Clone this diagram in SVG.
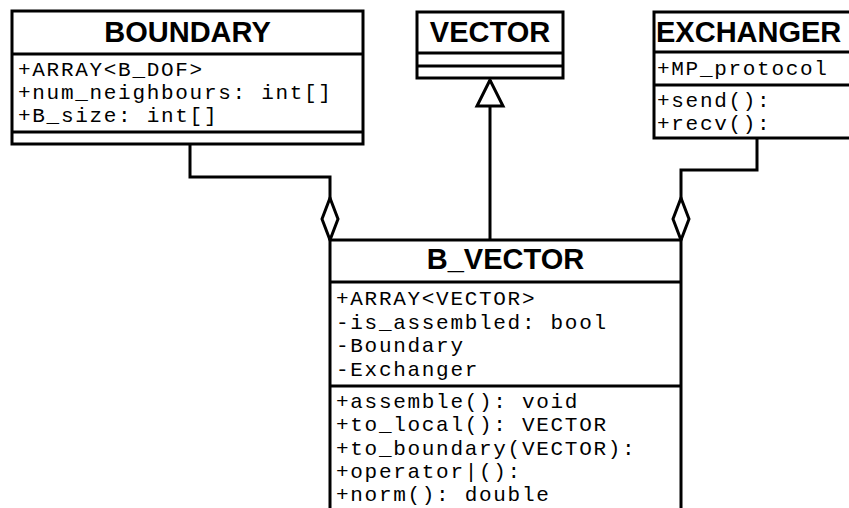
<svg xmlns="http://www.w3.org/2000/svg" width="849" height="508" viewBox="0 0 849 508">
<style>
.box{fill:#fff;stroke:#000;stroke-width:3}
.div{stroke:#000;stroke-width:3;fill:none}
.title{font-family:"Liberation Sans",Arial,sans-serif;font-weight:bold;font-size:29px;fill:#000}
.mono{font-family:"Liberation Mono","Courier New",monospace;font-size:21px;letter-spacing:1.7px;fill:#000}
.conn{fill:none;stroke:#000;stroke-width:3}
</style>
<defs>
<marker id="diamond" markerUnits="userSpaceOnUse" viewBox="-2 -10 46 20" refX="42" refY="0" markerWidth="46" markerHeight="20" orient="auto" overflow="visible">
<path d="M0,0 L21,-8 L42,0 L21,8 Z" fill="#fff" stroke="#000" stroke-width="3"/>
</marker>
<marker id="triangle" markerUnits="userSpaceOnUse" viewBox="-28 -15 30 30" refX="0" refY="0" markerWidth="30" markerHeight="30" orient="auto" overflow="visible">
<path d="M0,0 L-26,-13 L-26,13 Z" fill="#fff" stroke="#000" stroke-width="3"/>
</marker>
</defs>
<g id="BOUNDARY">
<rect class="box" x="12" y="11" width="351" height="133"/>
<line class="div" x1="12" y1="54" x2="363" y2="54"/>
<line class="div" x1="12" y1="132" x2="363" y2="132"/>
<text class="title" x="187.5" y="42" text-anchor="middle">BOUNDARY</text>
<text class="mono" x="18" y="76">+ARRAY&lt;B_DOF&gt;</text>
<text class="mono" x="18" y="99">+num_neighbours: int[]</text>
<text class="mono" x="18" y="122">+B_size: int[]</text>
</g>
<g id="VECTOR">
<rect class="box" x="417" y="12" width="146" height="66"/>
<line class="div" x1="417" y1="53" x2="563" y2="53"/>
<line class="div" x1="417" y1="66" x2="563" y2="66"/>
<text class="title" x="490" y="42" text-anchor="middle">VECTOR</text>
</g>
<g id="EXCHANGER">
<rect class="box" x="654" y="12" width="210" height="126"/>
<line class="div" x1="654" y1="52" x2="864" y2="52"/>
<line class="div" x1="654" y1="85" x2="864" y2="85"/>
<text class="title" x="656" y="42">EXCHANGER</text>
<text class="mono" x="657" y="75">+MP_protocol</text>
<text class="mono" x="657" y="107">+send():</text>
<text class="mono" x="657" y="130">+recv():</text>
</g>
<g id="B_VECTOR">
<rect class="box" x="330" y="240" width="351" height="290"/>
<line class="div" x1="330" y1="282" x2="681" y2="282"/>
<line class="div" x1="330" y1="386" x2="681" y2="386"/>
<text class="title" x="505.5" y="269" text-anchor="middle">B_VECTOR</text>
<text class="mono" x="336" y="305">+ARRAY&lt;VECTOR&gt;</text>
<text class="mono" x="336" y="329">-is_assembled: bool</text>
<text class="mono" x="336" y="352">-Boundary</text>
<text class="mono" x="336" y="376">-Exchanger</text>
<text class="mono" x="336" y="408">+assemble(): void</text>
<text class="mono" x="336" y="431">+to_local(): VECTOR</text>
<text class="mono" x="336" y="455">+to_boundary(VECTOR):</text>
<text class="mono" x="336" y="478">+operator|():</text>
<text class="mono" x="336" y="501">+norm(): double</text>
</g>
<g id="connectors">
<path class="conn" d="M190,144 V177 H330 V240" marker-end="url(#diamond)"/>
<path class="conn" d="M757,138 V170 H681 V240" marker-end="url(#diamond)"/>
<path class="conn" d="M490,240 V80" marker-end="url(#triangle)"/>
</g>
</svg>
